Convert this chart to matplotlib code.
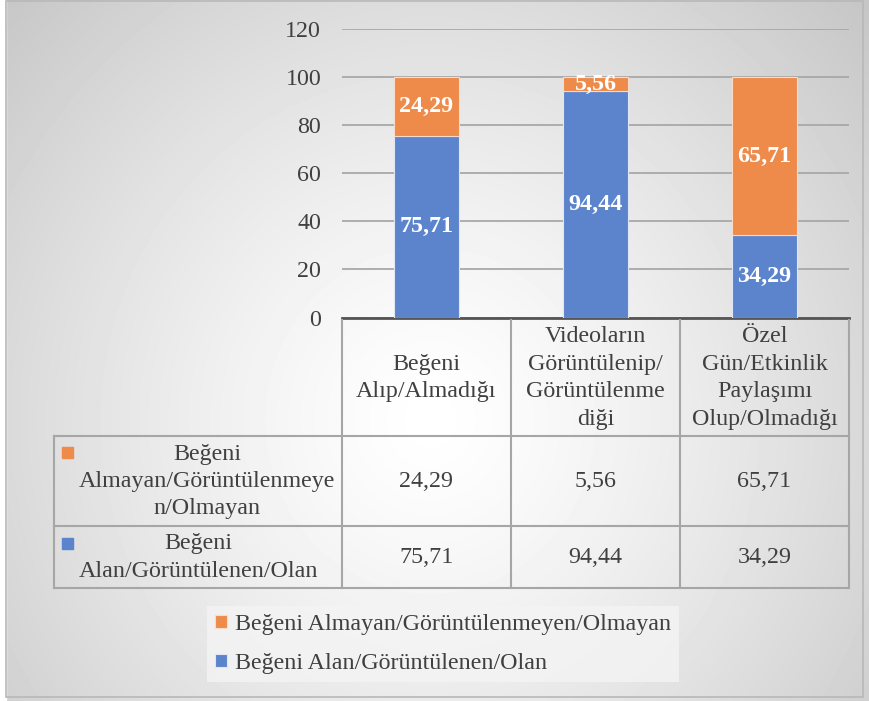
import numpy as np
import matplotlib.pyplot as plt

plt.rcParams['font.family'] = ['Liberation Serif', 'DejaVu Serif']

W, H = 869, 701

categories = ["Beğeni\nAlıp/Almadığı",
              "Videoların\nGörüntülenip/\nGörüntülenme\ndiği",
              "Özel\nGün/Etkinlik\nPaylaşımı\nOlup/Olmadığı"]
legend_names = ["Beğeni Almayan/Görüntülenmeyen/Olmayan",
                "Beğeni Alan/Görüntülenen/Olan"]
row_labels = ["Beğeni\nAlmayan/Görüntülenmeye\nn/Olmayan",
              "Beğeni\nAlan/Görüntülenen/Olan"]
almayan = [24.29, 5.56, 65.71]
alan = [75.71, 94.44, 34.29]
yticks = [0, 20, 40, 60, 80, 100, 120]

BLUE = '#5b84cc'
ORANGE = '#ee8a4a'
TXT = '#404040'
FS = 17.3
LS = 1.4


def fmt(v):
    return f"{v:.2f}".replace('.', ',')


def px_rect(x0, y0, x1, y1):
    return [x0 / W, 1 - y1 / H, (x1 - x0) / W, (y1 - y0) / H]


fig = plt.figure(figsize=(W / 100, H / 100), dpi=100)

# background: radial grey gradient like the Excel chart area
bg = fig.add_axes([0, 0, 1, 1])
yy, xx = np.mgrid[0:H, 0:W]
d = np.hypot((xx - 430) / 1.0, (yy - 420) / 1.05) / 600
shade = 1 - 0.23 * np.clip(d, 0, 1) ** 1.3
bg.imshow(shade, cmap='gray', vmin=0, vmax=1, extent=[0, W, H, 0], aspect='auto')
bg.add_patch(plt.Rectangle((0, 0), 6, H, color='white'))
bg.add_patch(plt.Rectangle((6, 1), 857, 696, fill=False, ec='#b8b8b8', lw=1.2))
bg.set_xlim(0, W)
bg.set_ylim(H, 0)
bg.axis('off')

# bar chart
ax = fig.add_axes(px_rect(342, 29.3, 849, 317.5))
ax.patch.set_alpha(0)
x = np.arange(len(alan))
b1 = ax.bar(x, alan, width=0.39, color=BLUE, edgecolor='#dfe7f5', linewidth=0.8, zorder=3)
b2 = ax.bar(x, almayan, bottom=alan, width=0.39, color=ORANGE, edgecolor='#f8dcc8',
            linewidth=0.8, zorder=3)
ax.bar_label(b1, labels=[fmt(v) for v in alan], label_type='center', color='white',
             fontweight='bold', fontsize=FS)
ax.bar_label(b2, labels=[fmt(v) for v in almayan], label_type='center', color='white',
             fontweight='bold', fontsize=FS)
ax.set_xlim(-0.5, 2.5)
ax.set_ylim(0, 120)
ax.set_yticks(yticks)
ax.set_yticklabels([str(t) for t in yticks], fontsize=FS, color=TXT)
ax.tick_params(axis='y', length=0, pad=15)
ax.set_xticks([])
ax.grid(axis='y', color='#a8a8a8', linewidth=1.3, zorder=0)
for s in ['top', 'right', 'left']:
    ax.spines[s].set_visible(False)
ax.spines['bottom'].set_color('#555555')
ax.spines['bottom'].set_linewidth(2)

# data table below the plot
cat_px = (849 - 342) / 3
left_w = (342 - 54) / cat_px
x0 = -0.5 - left_w
tab = fig.add_axes(px_rect(54, 320, 849, 588))
tab.set_xlim(x0, 2.5)
tab.set_ylim(268, 0)
tab.axis('off')
lc = '#a6a6a6'
for yv in [116, 206, 268]:
    tab.plot([x0, 2.5], [yv, yv], color=lc, lw=1.5, clip_on=False)
tab.plot([x0, x0], [116, 268], color=lc, lw=1.5, clip_on=False)
for xv in [-0.5, 0.5, 1.5, 2.5]:
    tab.plot([xv, xv], [0, 268], color=lc, lw=1.5, clip_on=False)

for i, c in enumerate(categories):
    tab.text(i, 58, c, ha='center', va='center', fontsize=FS, color=TXT, linespacing=LS)

row_mid = [161.5, 237.5]
marker_top = [127, 218]
for r, (vals, col) in enumerate([(almayan, ORANGE), (alan, BLUE)]):
    for i, v in enumerate(vals):
        tab.text(i, row_mid[r], fmt(v), ha='center', va='center', fontsize=FS, color=TXT)
    tab.text(x0 + 25 / cat_px, row_mid[r], row_labels[r], ha='left', va='center',
             multialignment='center', fontsize=FS, color=TXT, linespacing=LS)
    tab.add_patch(plt.Rectangle((x0 + 8 / cat_px, marker_top[r]), 11 / cat_px, 11,
                                color=col, clip_on=False))

# legend
leg = fig.legend([b2, b1], legend_names, loc='center', bbox_to_anchor=(443 / W, 1 - 644 / H),
                 fontsize=FS, frameon=True, fancybox=False, handlelength=0.5,
                 handleheight=0.5, handletextpad=0.3, labelspacing=0.75, borderpad=0.35)
leg.get_frame().set_facecolor('#f4f4f4')
leg.get_frame().set_edgecolor('none')
for t in leg.get_texts():
    t.set_color(TXT)

fig.savefig('out.png', dpi=100)
